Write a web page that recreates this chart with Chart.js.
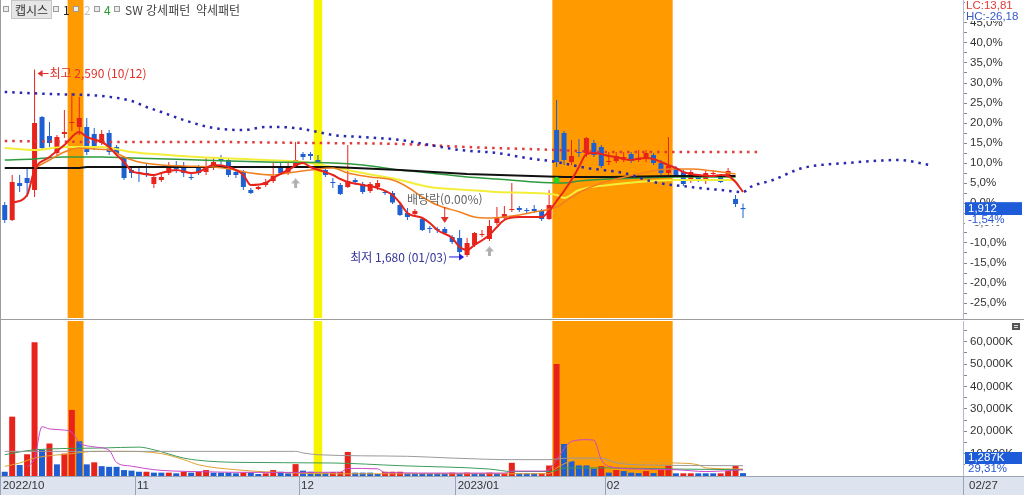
<!DOCTYPE html>
<html lang="ko">
<head>
<meta charset="utf-8">
<title>캡시스 일봉</title>
<script src="https://cdn.jsdelivr.net/npm/chart.js@4.4.1/dist/chart.umd.min.js"></script>
<style>
    body { margin: 0; background: #fff; }
    #painel { position: relative; width: 1024px; height: 495px; overflow: hidden; background: #fff; }
    #graficoPreco { position: absolute; left: 0; top: 0; }
    #graficoVolume { position: absolute; left: 0; top: 320px; }
    .legenda { position: absolute; left: 0; top: 0; font-family: 'Noto Sans CJK KR', sans-serif; font-size: 12px; color: #444; }
    .legenda span { position: absolute; top: 1px; line-height: 17px; white-space: nowrap; }
    .legenda .quadro { top: 6px; width: 4px; height: 4px; border: 1px solid #9a9a9a; background: #ececec; }
    .legenda .botao { left: 11px; top: 0; height: 17px; padding: 0 3px; background: #e6e6e6; border: 1px solid #c6c6c6; color: #333; }
</style>
</head>
<body>
<div id="painel">
    <canvas id="graficoPreco" width="1024" height="320"></canvas>
    <canvas id="graficoVolume" width="1024" height="175"></canvas>
    <div class="legenda">
        <span class="quadro" style="left:3px"></span>
        <span class="botao">캡시스</span>
        <span class="quadro" style="left:53px"></span>
        <span style="left:63px;color:#222">1</span>
        <span class="quadro" style="left:73px"></span>
        <span style="left:84px;color:#c4c4c4">2</span>
        <span class="quadro" style="left:94px"></span>
        <span style="left:104px;color:#2ca02c">4</span>
        <span class="quadro" style="left:114px"></span>
        <span style="left:125px">SW 강세패턴</span>
        <span style="left:196px">약세패턴</span>
    </div>
</div>
<script>
// 색상
const UP = '#e8231b';
const DOWN = '#1e5fd2';

// x축: 봉 100개 + 오른쪽 빈 칸
const SLOTS = 129;
const slotLabels = Array.from({ length: SLOTS }, (_, i) => i);
const monthIdx = [0, 18, 40, 61, 81];
const monthLabels = ['2022/10', '11', '12', '2023/01', '02'];

// 가격축(기준가 대비 %) 범위와 눈금
const PMIN = -28.75, PMAX = 50.75;
const pctTicks = [-25, -20, -15, -10, -5, 0, 5, 10, 15, 20, 25, 30, 35, 40, 45];
const VMAX = 69200;
const volTicks = [10000, 20000, 30000, 40000, 50000, 60000];

// 일봉 (%)
const openP = [-0.5, -4.25, 5, 6.25, 3.25, 21.5, 16.75, 12.5, 17.25, 20,
    19, 19, 17.25, 15, 17.5, 14, 11.5, 8.25, 7.75, 7.5,
    4.75, 5.75, 7.5, 9, 9, 6.5, 9, 7.75, 9, 11,
    10.75, 7.75, 7.75, 3.25, 3.5, 4.5, 5.5, 9, 7.5, 9,
    12.25, 12.25, 10.75, 8.25, 5.25, 4.5, 4, 5.75, 4.75, 3,
    4, 2.75, 2.5, -0.5, -2.5, -2.75, -4, -6.25, -6.5, -6.5,
    -8.5, -8.75, -13, -10.5, -8, -9, -5, -3.75, -1.75, -1.25,
    -1.75, -1.5, -2, -4, 18.25, 17.5, 10.25, 12.75, 12.5, 15,
    14, 10.25, 10.5, 11.25, 12.25, 10.75, 11.25, 12, 10, 7.5,
    8.75, 7.75, 5.5, 6.75, 5.75, 7.25, 6.5, 6.5, 1, -1.25];
const highP = [0.25, 7, 7, 9, 33.37, 21.75, 20.25, 17, 23.25, 27.5,
    26.5, 21.25, 18.75, 18.25, 18.25, 14.5, 11.75, 9, 9, 10,
    7, 7.25, 10.25, 10.5, 10.25, 7.5, 9.5, 11.25, 11.25, 12,
    11.25, 8.25, 8.25, 3.75, 4.25, 6, 10, 10.25, 10.25, 15.25,
    12.75, 12.75, 12, 8.75, 6.25, 5, 14.5, 6.25, 5.25, 5.25,
    5.75, 3.25, 3, 0, -1.25, -1.5, -3.5, -5.75, -6, -6,
    -8, -6.75, -8.75, -7.25, -6.75, -4.25, -1, -0.75, 5, -0.75,
    -1.25, -0.5, -1.5, 3.25, 25.75, 18, 15.75, 16, 16.5, 15.75,
    14.5, 12.75, 12.75, 12.75, 12.75, 13.25, 13.25, 12.5, 10.75, 16.5,
    9.25, 8.25, 8.25, 7.25, 8, 8.25, 7, 8.75, 2, 0];
const lowP = [-5, -4.5, 2.75, 1.5, 1.5, 13.25, 14, 12, 16.25, 18,
    17, 12, 13.25, 14.5, 12, 11.75, 5.75, 6.25, 5.25, 6.5,
    3.75, 5.25, 7, 7.5, 6.5, 5.75, 7, 7, 8.25, 9.5,
    6.5, 6.25, 3.25, 2.25, 3.25, 4, 5, 7, 7, 8.75,
    10.75, 10.75, 9.5, 6.5, 3.75, 2, 3.75, 4.5, 2.25, 2.5,
    3.25, 2, -0.25, -3.25, -4.25, -3.25, -7, -7.5, -7.5, -7.75,
    -10.25, -13, -13.49, -11, -8.5, -9.5, -5.5, -4.25, -2.25, -2.25,
    -2.5, -2.5, -4.5, -4.25, 9, 9.5, 9.5, 11.5, 11.5, 11.5,
    8.75, 9.5, 10, 10.25, 10, 10.25, 10.25, 9.5, 7, 7,
    6.5, 4.25, 5, 5.25, 4.75, 6.5, 5, 6.25, -1, -3.75];
const closeP = [-4.25, 5.25, 4.25, 5, 20, 13.75, 15, 16.5, 17.75, 20.25,
    21.25, 12.75, 14, 17.25, 12.75, 12.25, 6.25, 7.5, 7.5, 7.25,
    6.5, 6.5, 9, 8.5, 7.5, 6.25, 7.5, 9, 10.25, 10.5,
    7, 7, 4, 2.5, 4, 5.25, 6.75, 7.5, 8.75, 10.75,
    11.5, 11.75, 10, 7, 5, 2.25, 5.5, 5.25, 2.75, 4.75,
    5, 2.5, 0, -3, -3.5, -2, -6.75, -6.5, -6.75, -7.5,
    -9.75, -12.25, -10, -7.5, -7.75, -5.75, -3.75, -2.75, -1.5, -1.75,
    -2, -2, -4, -0.5, 10.25, 10.75, 11.75, 12.5, 16.25, 12,
    9.25, 10.5, 11.75, 11.5, 10.5, 11.25, 12.5, 10, 7.5, 9.25,
    7, 4.75, 7.75, 5.75, 7.5, 7.5, 5.25, 8, -0.25, -1.54];

// 거래량 (천주)
const volumes = [1900, 26500, 4900, 9700, 59700, 11800, 14500, 5200, 10000, 29500,
    15500, 5200, 6100, 4400, 4100, 4100, 2650, 2400, 1900, 1900,
    1500, 1500, 1500, 1200, 1900, 1500, 1900, 2650, 1500, 1500,
    1500, 1200, 1500, 1500, 900, 1200, 2650, 1900, 1200, 5300,
    2400, 1900, 1200, 1500, 1800, 1800, 10750, 1500, 1500, 1500,
    900, 1900, 1900, 1900, 1200, 1200, 1200, 1200, 1200, 1200,
    1500, 1200, 1500, 1200, 1200, 1500, 1200, 1200, 5900, 1200,
    1200, 1200, 1200, 4700, 50000, 14300, 6600, 4700, 4700, 3300,
    4400, 1500, 2650, 2200, 1500, 1300, 2200, 1300, 2650, 4700,
    1200, 1200, 1200, 1200, 1200, 1200, 1200, 2200, 4500, 1287];
const volUp = 'brbrrbrbrr' + 'bbrbbbbbbr' + 'bbrbrbrrbb' + 'bbrbbrrbbr' + 'bbbbrrrbbb' +
    'brrrbbbbbb' + 'rbrbbrbrrb' + 'bbrrrbbbbb' + 'rbrbbbrbrr' + 'brrbbbrrrb';

// 이동평균선 (읽은 지점, [봉 번호, %])
const ma5 = [[1, 0], [3, 2], [4, 8.25], [6, 11.5], [8, 14.5], [10, 17.75], [11, 16.5], [13, 15.25], [14, 14],
    [15, 12], [16, 10.25], [17, 8], [18, 7.5], [20, 7], [21, 7.5], [23, 8.25], [25, 7.5], [26, 7.75], [28, 9.5],
    [30, 9], [32, 7], [33, 4.5], [35, 5], [36, 6.25], [38, 8.25], [40, 10], [41, 9], [44, 7], [45, 6], [46, 5.25],
    [48, 4.5], [50, 3.75], [52, 2], [53, 0], [54, -2.5], [56, -3.75], [57, -5], [58, -6.75], [60, -8.75], [61, -11],
    [62, -11.75], [63, -10.5], [65, -8], [66, -6], [67, -4.25], [69, -3.5], [70, -3.5], [72, -3.5], [73, -2], [74, 0.5],
    [75, 3], [76, 5.75], [77, 9], [78, 12.25], [79, 12.5], [80, 12.25], [81, 11.75], [82, 11.5], [83, 11], [84, 10.75],
    [85, 11.1], [86, 11.25], [87, 11], [88, 10.25], [89, 9.5], [90, 8.75], [91, 7.75], [92, 7.25], [93, 7], [95, 6.75],
    [96, 7], [97, 6.75], [98, 5.25], [99, 2.75]];
const ma20 = [[4, 8.75], [6, 10.75], [8, 12.75], [10, 13.75], [12, 13.5], [14, 13.25], [16, 11.5], [18, 10.25],
    [21, 9.5], [24, 9.25], [28, 9], [31, 8.25], [33, 7.5], [36, 7], [38, 7.5], [41, 8.25], [44, 8.75], [46, 7.5],
    [49, 6.5], [52, 5.75], [54, 4], [56, 1.5], [58, -0.5], [61, -2.25], [63, -3.5], [65, -3.75], [67, -3.5], [69, -3],
    [71, -2.25], [74, -1], [76, 1.5], [78, 3.5], [80, 5], [82, 6], [85, 7.25], [89, 8.5], [92, 8.5], [95, 8], [98, 7.25]];
const ma60 = [[0, 13.75], [4, 13.25], [8, 14], [13, 14], [17, 12.75], [22, 12], [26, 11.5], [35, 10.75], [40, 10.25],
    [44, 9], [48, 7.5], [53, 5.75], [57, 4], [62, 3.25], [66, 2.75], [71, 2.5], [74, 2], [75, 1.25], [77, 3.25],
    [81, 4.5], [85, 5.25], [90, 5.75], [94, 5.75], [98, 5.75]];
const ma120 = [[0, 10.75], [4, 11], [8, 11.5], [13, 11.5], [17, 11.25], [26, 10.75], [35, 10.25], [44, 10], [48, 9.5],
    [53, 8.25], [57, 7.5], [62, 6.5], [66, 6], [71, 5.25], [75, 5], [77, 5.5], [81, 6], [85, 6.25], [90, 6.5], [98, 6.5]];
const ma240 = [[0, 8.75], [10, 8.75], [11, 9], [26, 9], [44, 9], [53, 8.25], [62, 7.25], [75, 6.5], [81, 6.5],
    [90, 6.75], [98, 6.75]];
// 점선 (엔벨로프)
const dotBlue = [[0, 27.75], [6, 27.25], [13, 26.75], [17, 25.5], [19, 24], [21, 22.75], [24, 20.75], [28, 18.75],
    [32, 18.25], [35, 19], [39, 18.75], [42, 17.75], [44, 17], [48, 16.5], [53, 15.75], [57, 14.5], [61, 13.25],
    [66, 12.5], [70, 11.25], [74, 10.25], [78, 8.75], [83, 7.5], [87, 5.25], [92, 4], [96, 3.25], [99, 2.75],
    [100, 4], [103, 5.75], [107, 8.75], [113, 10], [120, 10.75], [124, 9.5]];
const dotRed = [[0, 15.5], [13, 15.25], [26, 15.25], [42, 15], [53, 14.75], [62, 14], [74, 13.25], [81, 12.75], [101, 12.75]];

// 거래량 이동평균 (천주)
const vma5 = [[3, 4000], [4, 8000], [5, 22000], [6, 21000], [8, 20500], [9, 19500], [10, 15000], [12, 13000],
    [14, 11500], [15, 6000], [17, 4400], [20, 2800], [25, 2000], [35, 1600], [45, 1700], [46, 3400], [50, 3200],
    [51, 1500], [60, 1300], [67, 1300], [68, 2200], [72, 2200], [73, 2800], [74, 7300], [76, 15400], [78, 16200],
    [79, 16000], [80, 7300], [81, 4300], [85, 3100], [90, 2800], [94, 2000], [99, 2800]];
const vma20 = [[0, 4300], [2, 5800], [4, 8000], [9, 10000], [12, 11000], [16, 11000], [21, 10000], [24, 7300],
    [26, 5000], [31, 2800], [39, 1300], [44, 1000], [73, 1000], [74, 3600], [77, 7300], [81, 6500], [90, 5800],
    [93, 5000], [94, 3600], [99, 3100]];
const vma60 = [[0, 9500], [4, 11700], [13, 12500], [18, 12900], [20, 11700], [24, 8000], [26, 7000], [31, 6100],
    [44, 5800], [53, 4600], [65, 3100], [68, 2000], [73, 2000], [74, 2500], [75, 3600], [81, 3600], [90, 3100], [99, 2800]];
const vma120 = [[0, 11000], [39, 11000], [40, 10300], [42, 9500], [54, 8800], [60, 8000], [68, 7300], [73, 7300],
    [74, 7600], [76, 8000], [80, 8000], [82, 5900], [85, 5000], [99, 4600]];

// 강조 구간
const orangeRanges = [[9, 10], [74, 89]];
const yellowRanges = [[42, 42]];

// 신호 표시
const grayArrowPts = [[39, 4.9], [65, -12.1]];
const greenDotPts = [[74, 5.75]];

// 글자
const hiIdx = 4, hiText = '최고 2,590 (10/12)';
const loIdx = 62, loText = '최저 1,680 (01/03)';
const divIdx = 59, divText = '배당락(0.00%)';
const lcText = 'LC:13,81', hcText = 'HC:-26,18';
const lastPrice = '1,912', lastPct = '-1,54%';
const lastVol = '1,287K', volPct = '29,31%';
const lastDate = '02/27';

const AXIS_FONT = { family: "'Liberation Sans Narrow', 'Liberation Sans', sans-serif", size: 11.5 };
const CJK = "'Noto Sans CJK KR', sans-serif";

function pts(list) { return list.map(([x, y]) => ({ x, y })); }

function bandData(ranges, lo, hi) {
    const d = new Array(SLOTS).fill(null);
    ranges.forEach(([a, b]) => { for (let i = a; i <= b; i++) d[i] = [lo, hi]; });
    return d;
}

function fmtPct(v) { return v.toFixed(1).replace('.', ',') + '%'; }

function bandSet(ranges, lo, hi, color) {
    return {
        type: 'bar', data: bandData(ranges, lo, hi), backgroundColor: color,
        barPercentage: 1, categoryPercentage: 1, grouped: false, inflateAmount: 0.5, order: 20
    };
}

function lineSet(list, color, width, order, extra) {
    return Object.assign({
        type: 'line', data: pts(list), borderColor: color, borderWidth: width, pointRadius: 0,
        cubicInterpolationMode: 'monotone', fill: false, order: order
    }, extra || {});
}

function makeArrow(color) {
    const c = document.createElement('canvas');
    c.width = 9; c.height = 10;
    const g = c.getContext('2d');
    g.fillStyle = color;
    g.beginPath(); g.moveTo(4.5, 0); g.lineTo(9, 5); g.lineTo(0, 5); g.closePath(); g.fill();
    g.fillRect(3, 5, 3, 5);
    return c;
}

const candleColor = closeP.map((c, i) => c >= openP[i] ? UP : DOWN);

// 가격 차트 위 글자와 오른쪽 값 상자
const pricePlugin = {
    id: 'pricePlugin',
    afterDatasetsDraw(chart) {
        const { ctx, scales: { x, y } } = chart;
        ctx.save();
        ctx.font = '12px ' + CJK;
        ctx.textBaseline = 'middle';
        ctx.lineWidth = 1;

        // 최고가
        let px = x.getPixelForValue(hiIdx), py = y.getPixelForValue(highP[hiIdx]) + 4;
        ctx.strokeStyle = ctx.fillStyle = '#e0302a';
        ctx.beginPath(); ctx.moveTo(px + 6, py); ctx.lineTo(px + 14, py); ctx.stroke();
        ctx.beginPath(); ctx.moveTo(px + 3, py); ctx.lineTo(px + 8, py - 3.5); ctx.lineTo(px + 8, py + 3.5); ctx.closePath(); ctx.fill();
        ctx.textAlign = 'left';
        ctx.fillText(hiText, px + 15, py);

        // 최저가
        px = x.getPixelForValue(loIdx); py = y.getPixelForValue(lowP[loIdx]);
        ctx.strokeStyle = ctx.fillStyle = '#1a1ae0';
        ctx.beginPath(); ctx.moveTo(px - 18, py); ctx.lineTo(px - 7, py); ctx.stroke();
        ctx.beginPath(); ctx.moveTo(px - 3, py); ctx.lineTo(px - 8, py - 3.5); ctx.lineTo(px - 8, py + 3.5); ctx.closePath(); ctx.fill();
        ctx.fillStyle = '#34349a';
        ctx.textAlign = 'right';
        ctx.fillText(loText, px - 20, py);

        // 배당락
        px = x.getPixelForValue(divIdx); py = y.getPixelForValue(highP[divIdx]) - 4;
        ctx.strokeStyle = ctx.fillStyle = '#e0302a';
        ctx.beginPath(); ctx.moveTo(px, py - 16); ctx.lineTo(px, py - 5); ctx.stroke();
        ctx.beginPath(); ctx.moveTo(px, py); ctx.lineTo(px - 4, py - 6); ctx.lineTo(px + 4, py - 6); ctx.closePath(); ctx.fill();
        ctx.fillStyle = '#666';
        ctx.textAlign = 'center';
        ctx.fillText(divText, px, py - 24);
        ctx.restore();
    },
    afterDraw(chart) {
        const { ctx, scales: { y }, chartArea } = chart;
        ctx.save();
        ctx.font = AXIS_FONT.size + 'px ' + AXIS_FONT.family;
        ctx.textBaseline = 'middle';
        ctx.textAlign = 'left';
        const ax = chartArea.right + 2;

        ctx.fillStyle = '#fff';
        ctx.fillRect(ax, 0, 1024 - ax, 21);
        ctx.fillStyle = '#e03a3a'; ctx.fillText(lcText, ax + 1, 6);
        ctx.fillStyle = '#3a5ac8'; ctx.fillText(hcText, ax + 1, 17);

        const cy = y.getPixelForValue(closeP[closeP.length - 1]);
        ctx.fillStyle = '#1d5bd8';
        ctx.fillRect(ax, cy - 7, 1022 - ax, 13);
        ctx.fillStyle = '#fff'; ctx.fillText(lastPrice, ax + 3, cy);
        ctx.fillRect(ax, cy + 6, 1022 - ax, 10);
        ctx.fillStyle = '#2a56d0'; ctx.fillText(lastPct, ax + 3, cy + 11);

        // 테두리
        ctx.strokeStyle = '#9c9c9c';
        ctx.beginPath(); ctx.moveTo(0.5, 0); ctx.lineTo(0.5, 320); ctx.stroke();
        ctx.beginPath(); ctx.moveTo(0, 319.5); ctx.lineTo(1024, 319.5); ctx.stroke();
        ctx.restore();
    }
};

const volumePlugin = {
    id: 'volumePlugin',
    beforeDraw(chart) {
        const { ctx, chartArea } = chart;
        ctx.save();
        ctx.fillStyle = '#dde4ef';
        ctx.fillRect(0, chartArea.bottom, 1024, 175 - chartArea.bottom);
        ctx.restore();
    },
    afterDraw(chart) {
        const { ctx, chartArea } = chart;
        ctx.save();
        ctx.font = AXIS_FONT.size + 'px ' + AXIS_FONT.family;
        ctx.textBaseline = 'middle';
        ctx.textAlign = 'left';
        const ax = chartArea.right + 2;
        const by = chartArea.bottom - 18;
        ctx.fillStyle = '#1d5bd8';
        ctx.fillRect(ax, by - 6, 1022 - ax, 12);
        ctx.fillStyle = '#fff'; ctx.fillText(lastVol, ax + 3, by);
        ctx.fillRect(ax, by + 6, 1022 - ax, 10);
        ctx.fillStyle = '#2a56d0'; ctx.fillText(volPct, ax + 3, by + 11);

        ctx.fillStyle = '#333';
        ctx.fillText(lastDate, ax + 4, (chartArea.bottom + 175) / 2);

        ctx.strokeStyle = '#9aa4b4';
        ctx.beginPath(); ctx.moveTo(chartArea.right + 0.5, chartArea.bottom); ctx.lineTo(chartArea.right + 0.5, 175); ctx.stroke();
        ctx.beginPath(); ctx.moveTo(0, chartArea.bottom + 0.5); ctx.lineTo(1024, chartArea.bottom + 0.5); ctx.stroke();
        ctx.strokeStyle = '#9c9c9c';
        ctx.beginPath(); ctx.moveTo(0.5, 0); ctx.lineTo(0.5, chartArea.bottom); ctx.stroke();

        // 작은 설정 단추
        ctx.fillStyle = '#555';
        ctx.fillRect(1012, 3, 8, 7);
        ctx.fillStyle = '#ddd';
        ctx.fillRect(1014, 5, 4, 1);
        ctx.fillRect(1014, 7, 4, 1);
        ctx.restore();
    }
};

function yAxis(min, max, ticksFn, labelFn) {
    return {
        position: 'right', min: min, max: max,
        afterBuildTicks(s) { s.ticks = ticksFn().map(v => ({ value: v })); },
        afterFit(s) { s.width = 61; s.paddingTop = 0; s.paddingBottom = 0; },
        ticks: { autoSkip: false, padding: 3, color: '#333', font: AXIS_FONT, callback: labelFn },
        grid: { drawOnChartArea: false, drawTicks: true, tickLength: 4, color: '#8a8a8a' },
        border: { display: true, color: '#b4bccb' }
    };
}

Chart.defaults.font.family = AXIS_FONT.family;

// 가격 차트
new Chart(document.getElementById('graficoPreco'), {
    type: 'bar',
    data: {
        labels: slotLabels,
        datasets: [
            bandSet(orangeRanges, PMIN, PMAX, '#ff9a00'),
            bandSet(yellowRanges, PMIN, PMAX, '#f8f400'),
            {
                type: 'bar', data: lowP.map((l, i) => [l, highP[i]]), backgroundColor: candleColor,
                barThickness: 1, grouped: false, inflateAmount: 0, order: 9
            },
            {
                type: 'bar', data: openP.map((o, i) => [o, closeP[i]]), backgroundColor: candleColor,
                barThickness: 5, minBarLength: 1, grouped: false, inflateAmount: 0, order: 8
            },
            lineSet(dotBlue, '#2828b0', 2.5, 4, { borderDash: [2.5, 5] }),
            lineSet(dotRed, '#e03a3a', 2.5, 4, { borderDash: [2.5, 5] }),
            lineSet(ma240, '#111', 2, 6, { cubicInterpolationMode: 'default', tension: 0 }),
            lineSet(ma120, '#2f9a3f', 1.5, 6),
            lineSet(ma60, '#f2ee3a', 2, 6),
            lineSet(ma20, '#f08020', 1.5, 5),
            lineSet(ma5, UP, 2, 3),
            {
                type: 'line', data: pts(grayArrowPts), showLine: false,
                pointStyle: makeArrow('#b0b0b0'), pointRadius: 5, order: 2
            },
            {
                type: 'line', data: pts(greenDotPts), showLine: false, pointStyle: 'circle',
                pointRadius: 3, pointBackgroundColor: '#22d822', pointBorderWidth: 0, order: 1
            }
        ]
    },
    options: {
        responsive: false,
        animation: false,
        layout: { autoPadding: false, padding: { left: 1, right: 0, top: 0, bottom: 2 } },
        plugins: { legend: { display: false }, tooltip: { enabled: false } },
        scales: {
            x: {
                type: 'category', display: false, offset: true, grid: { offset: true },
                ticks: { display: false },
                afterFit(s) { s.paddingLeft = 0; s.paddingRight = 0; }
            },
            y: yAxis(PMIN, PMAX,
                () => { const t = []; pctTicks.forEach(v => { t.push(v - 2.5, v); }); t.push(47.5, 50); return t; },
                v => pctTicks.includes(v) ? fmtPct(v) : '')
        }
    },
    plugins: [pricePlugin]
});

// 거래량 차트
new Chart(document.getElementById('graficoVolume'), {
    type: 'bar',
    data: {
        labels: slotLabels,
        datasets: [
            bandSet(orangeRanges, 0, VMAX, '#ff9a00'),
            bandSet(yellowRanges, 0, VMAX, '#f8f400'),
            {
                type: 'bar', data: volumes, backgroundColor: volumes.map((v, i) => volUp[i] === 'r' ? UP : DOWN),
                barThickness: 6, grouped: false, inflateAmount: 0, order: 8
            },
            lineSet(vma120, '#9a9a9a', 1, 3),
            lineSet(vma60, '#3c9c5c', 1, 3),
            lineSet(vma20, '#e0a030', 1, 3),
            lineSet(vma5, '#c848c8', 1, 2)
        ]
    },
    options: {
        responsive: false,
        animation: false,
        layout: { autoPadding: false, padding: { left: 1, right: 0, top: 1, bottom: 0 } },
        plugins: { legend: { display: false }, tooltip: { enabled: false } },
        scales: {
            x: {
                type: 'category', offset: true, position: 'bottom',
                afterFit(s) { s.height = 19; s.paddingLeft = 0; s.paddingRight = 0; },
                grid: {
                    offset: true, drawOnChartArea: false, drawTicks: true, tickLength: 19,
                    color: c => monthIdx.includes(c.index) ? '#98a4b6' : 'rgba(0,0,0,0)',
                    tickColor: c => monthIdx.includes(c.index) ? '#98a4b6' : 'rgba(0,0,0,0)'
                },
                border: { display: false },
                ticks: {
                    autoSkip: false, maxRotation: 0, align: 'start', padding: -16, labelOffset: -2,
                    color: '#333', font: AXIS_FONT,
                    callback: (v, i) => { const k = monthIdx.indexOf(i); return k < 0 ? '' : monthLabels[k]; }
                }
            },
            y: yAxis(0, VMAX,
                () => { const t = []; volTicks.forEach(v => { t.push(v - 5000, v); }); t.push(65000); return t; },
                v => volTicks.includes(v) ? v.toLocaleString('en-US') + 'K' : '')
        }
    },
    plugins: [volumePlugin]
});
</script>
</body>
</html>
